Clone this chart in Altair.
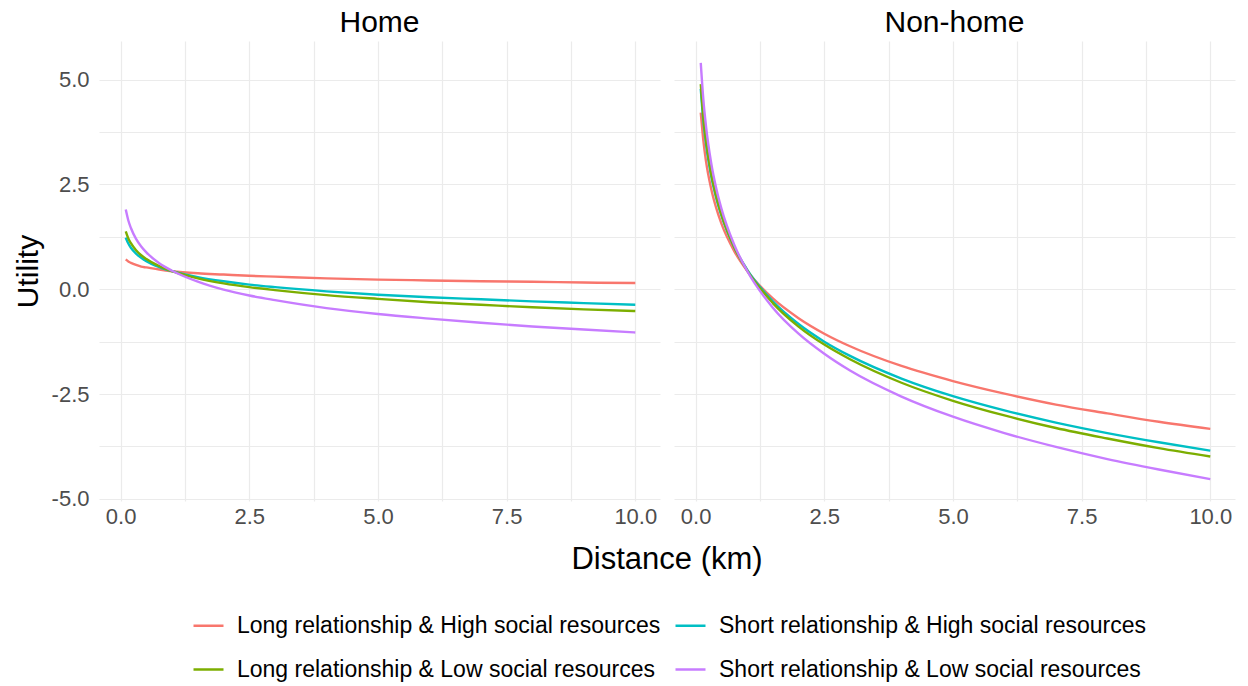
import altair as alt
import pandas as pd

distance = [0.1, 0.15, 0.2, 0.3, 0.4, 0.5, 0.75, 1, 1.5, 2, 2.5, 3, 4, 5, 6, 7, 8, 9, 10]

groups = [
    "Long relationship & High social resources",
    "Short relationship & High social resources",
    "Long relationship & Low social resources",
    "Short relationship & Low social resources",
]
colors = ["#F8766D", "#00BFC4", "#7CAE00", "#C77CFF"]

# Home panel
home_long_high = [0.71, 0.66, 0.63, 0.58, 0.54, 0.52, 0.47, 0.43, 0.38, 0.35, 0.32, 0.30, 0.26, 0.23, 0.21, 0.19, 0.18, 0.16, 0.15]
home_short_high = [1.23, 1.09, 0.99, 0.85, 0.75, 0.67, 0.53, 0.43, 0.29, 0.19, 0.11, 0.05, -0.05, -0.13, -0.19, -0.24, -0.29, -0.33, -0.37]
home_long_low = [1.38, 1.21, 1.10, 0.93, 0.81, 0.72, 0.55, 0.43, 0.26, 0.14, 0.05, -0.02, -0.14, -0.23, -0.31, -0.37, -0.43, -0.48, -0.52]
home_short_low = [1.90, 1.64, 1.46, 1.20, 1.02, 0.88, 0.62, 0.44, 0.18, -0.01, -0.15, -0.26, -0.45, -0.59, -0.70, -0.80, -0.89, -0.96, -1.03]

# Non-home panel
nonhome_long_high = [4.21, 3.55, 3.07, 2.41, 1.94, 1.57, 0.91, 0.44, -0.22, -0.69, -1.06, -1.36, -1.83, -2.19, -2.49, -2.75, -2.96, -3.16, -3.33]
nonhome_short_high = [4.78, 4.02, 3.48, 2.72, 2.18, 1.76, 1.00, 0.47, -0.29, -0.83, -1.25, -1.59, -2.13, -2.55, -2.89, -3.18, -3.43, -3.65, -3.85]
nonhome_long_low = [4.89, 4.11, 3.56, 2.77, 2.22, 1.79, 1.01, 0.45, -0.33, -0.89, -1.32, -1.67, -2.23, -2.66, -3.01, -3.31, -3.56, -3.79, -3.99]
nonhome_short_low = [5.40, 4.53, 3.91, 3.03, 2.41, 1.93, 1.06, 0.44, -0.44, -1.06, -1.54, -1.94, -2.56, -3.04, -3.43, -3.76, -4.05, -4.30, -4.53]

series = {
    ("Home", groups[0]): home_long_high,
    ("Home", groups[1]): home_short_high,
    ("Home", groups[2]): home_long_low,
    ("Home", groups[3]): home_short_low,
    ("Non-home", groups[0]): nonhome_long_high,
    ("Non-home", groups[1]): nonhome_short_high,
    ("Non-home", groups[2]): nonhome_long_low,
    ("Non-home", groups[3]): nonhome_short_low,
}

rows = []
for (panel, grp), vals in series.items():
    for d, u in zip(distance, vals):
        rows.append({"panel": panel, "group": grp, "distance": d, "utility": u})
df = pd.DataFrame(rows)

grid_vals = [0, 1.25, 2.5, 3.75, 5, 6.25, 7.5, 8.75, 10]
ygrid_vals = [-5, -3.75, -2.5, -1.25, 0, 1.25, 2.5, 3.75, 5]
label_expr = ("abs(datum.value % 2.5) < 0.001 ? "
              "replace(format(datum.value, '.1f'), '\u2212', '-') : ''")

FONT = "Liberation Sans"

base = alt.Chart(df).mark_line(strokeWidth=2.4, interpolate="monotone").encode(
    x=alt.X("distance:Q", scale=alt.Scale(domain=[-0.42, 10.48], nice=False, zero=False),
            axis=alt.Axis(values=grid_vals, labelExpr=label_expr, title=None, labelPadding=4)),
    y=alt.Y("utility:Q", scale=alt.Scale(domain=[-5.05, 5.92], nice=False, zero=False),
            axis=alt.Axis(values=ygrid_vals, labelExpr=label_expr, title="Utility", labelPadding=9,
                          titlePadding=8)),
    color=alt.Color("group:N", scale=alt.Scale(domain=groups, range=colors),
                    legend=alt.Legend(title=None, orient="none", legendX=93, legendY=568,
                                      direction="horizontal", columns=2,
                                      symbolType="stroke", symbolSize=900, symbolStrokeWidth=2.5,
                                      labelFontSize=23, labelFont=FONT, labelColor="#000000",
                                      labelLimit=0,
                                      columnPadding=9, rowPadding=15, labelOffset=12)),
    detail="group:N",
).properties(width=561, height=460)

chart = base.facet(
    column=alt.Column("panel:N", sort=["Home", "Non-home"], title="Distance (km)",
                      header=alt.Header(labelOrient="top", titleOrient="bottom", labelFontSize=30,
                                        labelFont=FONT, labelColor="#000000", labelPadding=2,
                                        titleFontSize=31, titleFont=FONT, titleColor="#000000",
                                        titleFontWeight="normal", titlePadding=8)),
    spacing=12,
).properties(
    padding={"left": 13, "top": 8, "right": 12, "bottom": 5},
    background="#FFFFFF",
).configure_view(stroke="transparent").configure_axis(
    domain=False, ticks=False, grid=True, gridColor="#EBEBEB", gridWidth=1.2,
    labelColor="#4D4D4D", labelFontSize=22, labelFont=FONT,
    titleFontSize=30, titleFont=FONT, titleColor="#000000", titleFontWeight="normal",
)

chart.save("out.html", embed_options={"renderer": "svg", "actions": False})
